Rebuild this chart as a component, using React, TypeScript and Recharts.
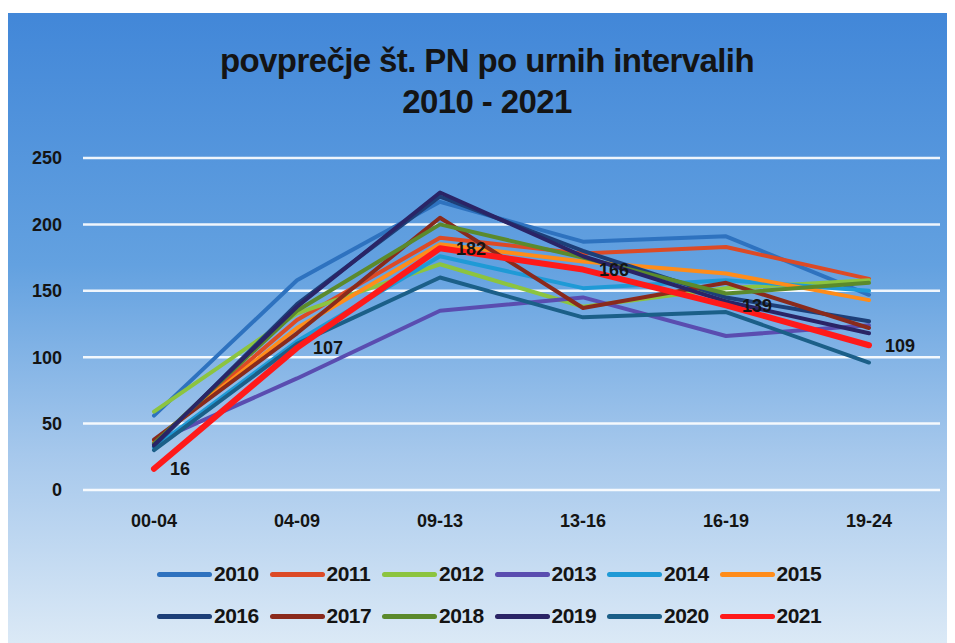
import React from 'react';
import { LineChart, Line, XAxis, YAxis, CartesianGrid, LabelList } from 'recharts';

// hour intervals on the x axis
const intervals = ['00-04', '04-09', '09-13', '13-16', '16-19', '19-24'];
const yTicks = [0, 50, 100, 150, 200, 250];

// average number of PN per interval, one list per year
const y2010 = [56, 158, 217, 187, 191, 147];
const y2011 = [36, 128, 190, 178, 183, 159];
const y2012 = [59, 133, 170, 138, 152, 158];
const y2013 = [36, 84, 135, 145, 116, 124];
const y2014 = [32, 112, 176, 152, 158, 150];
const y2015 = [37, 122, 185, 172, 163, 143];
const y2016 = [33, 140, 221, 180, 145, 127];
const y2017 = [38, 118, 205, 137, 156, 122];
const y2018 = [35, 135, 200, 175, 148, 156];
const y2019 = [34, 138, 224, 176, 142, 118];
const y2020 = [30, 110, 160, 130, 134, 96];
const y2021 = [16, 107, 182, 166, 139, 109];

const years = ['2010', '2011', '2012', '2013', '2014', '2015', '2016', '2017', '2018', '2019', '2020', '2021'];
const values = [y2010, y2011, y2012, y2013, y2014, y2015, y2016, y2017, y2018, y2019, y2020, y2021];
const colors = [
  '#2e72bf', '#dc4a26', '#8cc43f', '#5a4db0', '#1f9ad6', '#ff8c1a',
  '#1d3f78', '#8a2a1c', '#5b8a2c', '#2a2466', '#1b5f88', '#ff1a1a',
];

const data = intervals.map((name, i) => {
  const row: Record<string, string | number> = { name };
  years.forEach((y, k) => {
    row[y] = values[k][i];
  });
  return row;
});

const font = '"Liberation Sans", Arial, sans-serif';

const App: React.FC = () => {
  return (
    <div
      style={{
        position: 'relative',
        width: 950,
        height: 630,
        marginLeft: -3,
        marginTop: 5,
        background: 'linear-gradient(to bottom, #4287d8 0%, #63a1e0 40%, #a6c8ec 70%, #dbe9f6 100%)',
        fontFamily: font,
      }}
    >
      <div
        style={{
          position: 'absolute',
          top: 27,
          left: 0,
          width: 964,
          textAlign: 'center',
          fontWeight: 'bold',
          fontSize: 33,
          lineHeight: '41px',
          color: '#141414',
          letterSpacing: -0.6,
        }}
      >
        povprečje št. PN po urnih intervalih
        <br />
        2010 - 2021
      </div>
      <LineChart
        width={950}
        height={630}
        data={data}
        margin={{ top: 145, right: 15, left: 0, bottom: 113 }}
      >
        <CartesianGrid vertical={false} stroke="#ffffff" strokeWidth={2.5} strokeOpacity={0.9} />
        <XAxis
          dataKey="name"
          axisLine={false}
          tickLine={false}
          tickSize={0}
          tickMargin={24}
          height={40}
          padding={{ left: 71, right: 71 }}
          tick={{ fill: '#141414', fontSize: 18, fontWeight: 'bold', fontFamily: font }}
        />
        <YAxis
          domain={[0, 250]}
          ticks={yTicks}
          axisLine={false}
          tickLine={false}
          tickSize={0}
          tickMargin={21}
          width={78}
          tick={{ fill: '#141414', fontSize: 18, fontWeight: 'bold', fontFamily: font }}
        />
        {years.map((y, k) => (
          <Line
            key={y}
            dataKey={y}
            stroke={colors[k]}
            strokeWidth={y === '2021' ? 6 : 4}
            strokeLinecap="round"
            strokeLinejoin="round"
            dot={false}
            isAnimationActive={false}
          >
            {y === '2021' && (
              <LabelList
                dataKey={y}
                position="right"
                offset={16}
                fill="#141414"
                fontSize={18}
                fontWeight="bold"
                fontFamily={font}
              />
            )}
          </Line>
        ))}
      </LineChart>
      <div style={{ position: 'absolute', left: 152, top: 540, width: 700 }}>
        {[0, 1].map((r) => (
          <div key={r} style={{ display: 'flex', height: 42, alignItems: 'center' }}>
            {years.slice(r * 6, r * 6 + 6).map((y, j) => (
              <div key={y} style={{ display: 'flex', alignItems: 'center', width: 112.5 }}>
                <span
                  style={{
                    display: 'inline-block',
                    width: 55,
                    height: 5,
                    borderRadius: 3,
                    background: colors[r * 6 + j],
                    marginRight: 2,
                  }}
                />
                <span style={{ fontWeight: 'bold', fontSize: 21, color: '#141414', letterSpacing: -0.5 }}>{y}</span>
              </div>
            ))}
          </div>
        ))}
      </div>
    </div>
  );
};

export default App;
